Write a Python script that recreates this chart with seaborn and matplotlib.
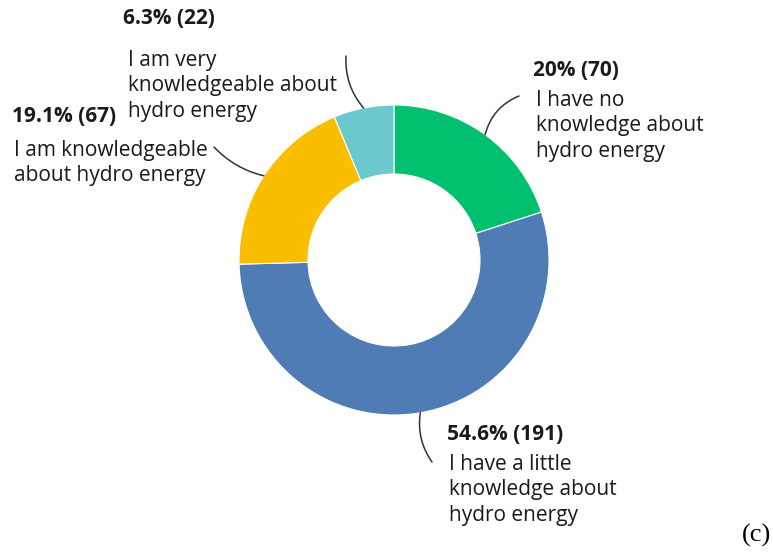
import numpy as np
import seaborn as sns
import matplotlib.pyplot as plt

sns.set_theme(style="white")
plt.rcParams['font.family'] = ['Open Sans', 'DejaVu Sans']

# survey answers, clockwise from 12 o'clock
responses = [
    "I have no\nknowledge about\nhydro energy",
    "I have a little\nknowledge about\nhydro energy",
    "I am knowledgeable\nabout hydro energy",
    "I am very\nknowledgeable about\nhydro energy",
]
counts = [70, 191, 67, 22]
colors = ["#00BF6F", "#507CB6", "#F9BE00", "#6BC8CD"]

W, H = 773, 552
CX, CY, R, RING = 394, 260, 155, 69

# label layout in pixel coords (top of image = 0): percent line, text block, leader end
pct_xy = [(533, 70), (447, 434), (12, 117), (123, 18)]
txt_xy = [(536, 99), (449, 463), (14, 149), (128, 59)]
lead_xy = [(519, 96), (432, 462), (214, 147), (346, 56)]
lead_rad = [0.25, -0.2, 0.15, 0.2]


def py(y):
    return H - y


def pct_text(c, total):
    s = f"{100 * c / total:.1f}".rstrip("0").rstrip(".")
    return f"{s}% ({c})"


fig = plt.figure(figsize=(W / 100, H / 100), dpi=100)
ax = fig.add_axes([0, 0, 1, 1])
ax.axis("off")

wedges, _ = ax.pie(counts, colors=colors, startangle=90, counterclock=False,
                   center=(CX, py(CY)), radius=R,
                   wedgeprops=dict(width=RING, edgecolor="white", linewidth=0.8))
ax.set_xlim(0, W)
ax.set_ylim(0, H)
ax.set_aspect("auto")

total = sum(counts)
for i, w in enumerate(wedges):
    ang = np.deg2rad((w.theta1 + w.theta2) / 2)
    px = CX + R * np.cos(ang)
    pyy = py(CY) + R * np.sin(ang)
    ax.annotate("", xy=(px, pyy), xytext=(lead_xy[i][0], py(lead_xy[i][1])),
                arrowprops=dict(arrowstyle="-", color="#333333", lw=1.1,
                                connectionstyle=f"arc3,rad={lead_rad[i]}",
                                shrinkA=0, shrinkB=0))
    ax.text(pct_xy[i][0], py(pct_xy[i][1]), pct_text(counts[i], total),
            fontsize=15, fontweight="bold", color="#1a1a1a",
            ha="left", va="center")
    ax.text(txt_xy[i][0], py(txt_xy[i][1]) + 9, responses[i],
            fontsize=15, fontweight="medium", color="#1a1a1a",
            ha="left", va="top", linespacing=1.28)

ax.text(771, py(535), "(c)", fontsize=19, family=["Liberation Serif"],
        ha="right", va="center", color="black")

fig.savefig("out.png", dpi=100)
